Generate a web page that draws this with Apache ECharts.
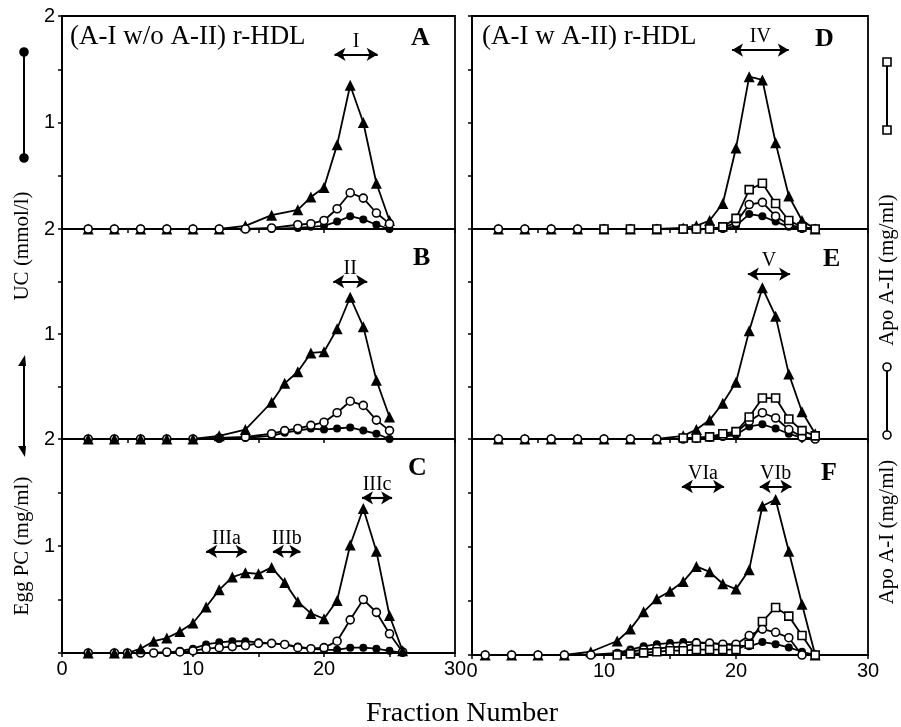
<!DOCTYPE html>
<html><head><meta charset="utf-8">
<script src="https://cdn.jsdelivr.net/npm/echarts@6/dist/echarts.min.js"></script>
<style>html,body{margin:0;padding:0;background:#fff}#c{width:901px;height:727px}</style>
</head><body><div id="c"></div><script>
// ---------- data ----------
const fracA   = [2,4,6,8,10,12,14,16,18,19,20,21,22,23,24,25];
const triA    = [0,0,0,0,0,0,0.03,0.13,0.18,0.30,0.39,0.79,1.35,1.00,0.43,0.08];
const openA   = [0,0,0,0,0,0,0,0.01,0.04,0.05,0.08,0.19,0.34,0.29,0.15,0.05];
const filledA = [0,0,0,0,0,0,0,0,0.01,0.02,0.03,0.07,0.12,0.09,0.04,0];

const fracB   = [2,4,6,8,10,12,14,16,17,18,19,20,21,22,23,24,25];
const triB    = [0,0,0,0,0,0.03,0.09,0.35,0.53,0.64,0.82,0.83,1.05,1.35,1.07,0.56,0.21];
const openB   = [0,0,0,0,0,0.01,0.02,0.05,0.08,0.10,0.13,0.16,0.25,0.36,0.32,0.18,0.08];
const filledB = [0,0,0,0,0,0,0.01,0.03,0.06,0.08,0.10,0.09,0.10,0.11,0.08,0.05,0];

const fracC   = [2,4,5,6,7,8,9,10,11,12,13,14,15,16,17,18,19,20,21,22,23,24,25,26];
const triC    = [0,0,0,0.04,0.11,0.14,0.20,0.28,0.43,0.59,0.71,0.75,0.74,0.80,0.66,0.48,0.37,0.32,0.49,1.01,1.35,0.95,0.35,0.02];
const openC   = [0,0,0,0,0,0.01,0.01,0.02,0.04,0.05,0.06,0.07,0.09,0.09,0.08,0.05,0.04,0.05,0.11,0.31,0.50,0.38,0.18,0.01];
const filledC = [0,0,0,0,0,0,0.02,0.04,0.08,0.10,0.11,0.11,0.10,0.09,0.08,0.06,0.04,0.03,0.03,0.05,0.05,0.04,0.02,0];

const fracD   = [2,4,6,8,10,12,14,16,17,18,19,20,21,22,23,24,25,26];
const triD    = [0,0,0,0,0,0,0,0.01,0.03,0.08,0.24,0.76,1.43,1.40,0.81,0.31,0.08,0];
const openD   = [0,0,0,0,0,0,0,0,0,0,0.01,0.06,0.23,0.25,0.12,0.04,0.01,0];
const filledD = [0,0,0,0,0,0,0,0,0,0,0,0.03,0.14,0.12,0.07,0.02,0,0];
const fracDsq = [10,12,14,16,17,18,19,20,21,22,23,24,25,26];
const sqD     = [0,0,0,0,0,0,0.02,0.10,0.37,0.43,0.24,0.08,0.02,0];

const fracE   = [2,4,6,8,10,12,14,16,17,18,19,20,21,22,23,24,25,26];
const triE    = [0,0,0,0,0,0,0,0.03,0.09,0.18,0.34,0.54,1.03,1.44,1.17,0.62,0.26,0.05];
const openE   = [0,0,0,0,0,0,0,0,0.01,0.02,0.03,0.06,0.17,0.25,0.20,0.09,0.02,0];
const filledE = [0,0,0,0,0,0,0,0,0,0.01,0.02,0.04,0.12,0.14,0.10,0.05,0.01,0];
const fracEsq = [16,17,18,19,20,21,22,23,24,25,26];
const sqE     = [0.01,0.01,0.02,0.05,0.07,0.21,0.39,0.39,0.19,0.08,0.03];

const fracF   = [1,3,5,7,9,11,12,13,14,15,16,17,18,19,20,21,22,23,24,25,26];
const triF    = [0,0,0,0,0.03,0.13,0.24,0.40,0.52,0.59,0.68,0.82,0.77,0.66,0.61,0.79,1.38,1.44,0.96,0.47,0];
const openF   = [0,0,0,0,0,0.01,0.03,0.05,0.06,0.07,0.08,0.11,0.11,0.10,0.10,0.18,0.24,0.21,0.16,0,0];
const filledF = [0,0,0,0,0,0.02,0.05,0.08,0.10,0.11,0.12,0.12,0.11,0.10,0.09,0.08,0.12,0.10,0.07,0.03,0];
const fracFsq = [11,12,13,14,15,16,17,18,19,20,21,22,23,24,25,26];
const sqF     = [0,0.01,0.02,0.03,0.04,0.04,0.05,0.05,0.05,0.05,0.10,0.31,0.44,0.36,0.18,0];

// fraction ranges marked by double arrows: [label, from, to, height]
const arrowsA = [['I', 20.8, 24.1, 1.64]];
const arrowsB = [['II', 20.7, 23.3, 1.50]];
const arrowsC = [['IIIa', 11.0, 14.1, 0.95], ['IIIb', 16.1, 18.2, 0.95], ['IIIc', 22.9, 25.2, 1.45]];
const arrowsD = [['IV', 19.7, 24.0, 1.68]];
const arrowsE = [['V', 20.9, 24.1, 1.57]];
const arrowsF = [['VIa', 15.9, 19.1, 1.56], ['VIb', 21.8, 24.2, 1.56]];

// tick labels
const xLabelValues = [0, 10, 20, 30];
const xLabels      = ['0', '10', '20', '30'];
const yLabelValues = [0, 1, 2];
const yLabelsA = ['2', '1', '2'];
const yLabelsB = ['2', '1', ''];
const yLabelsC = ['', '1', ''];

// ---------- layout ----------
const grids = [
  {left: 62,  top: 16,  width: 393, height: 213},
  {left: 62,  top: 229, width: 393, height: 210},
  {left: 62,  top: 439, width: 393, height: 214},
  {left: 472, top: 16,  width: 396, height: 213},
  {left: 472, top: 229, width: 396, height: 210},
  {left: 472, top: 439, width: 396, height: 216}
];
const SERIF = 'Liberation Serif, Times New Roman, serif';
const SANS = 'Liberation Sans, Arial, sans-serif';

function pts(fr, v) { return fr.map((f, i) => [f, v[i]]); }
const styles = {
  tri:    {symbol: 'triangle', symbolSize: 11, itemStyle: {color: '#000'}},
  open:   {symbol: 'circle', symbolSize: 8, itemStyle: {color: '#fff', borderColor: '#000', borderWidth: 1.6}},
  filled: {symbol: 'circle', symbolSize: 8, itemStyle: {color: '#000'}},
  sq:     {symbol: 'rect', symbolSize: 8, itemStyle: {color: '#fff', borderColor: '#000', borderWidth: 1.6}}
};
function line(kind, fr, v, gi) {
  const s = styles[kind];
  return {
    type: 'line', xAxisIndex: gi, yAxisIndex: gi, data: pts(fr, v),
    symbol: s.symbol, symbolSize: s.symbolSize, itemStyle: s.itemStyle,
    lineStyle: {color: '#000', width: 1.8}, showSymbol: true, silent: true, z: 3
  };
}
function arrowSeries(arr, gi) {
  return {
    type: 'line', xAxisIndex: gi, yAxisIndex: gi, data: [], silent: true,
    markLine: {
      silent: true, animation: false, symbol: ['arrow', 'arrow'], symbolSize: [10, 11],
      lineStyle: {color: '#000', width: 2.2, type: 'solid'},
      label: {show: true, position: 'insideMiddleTop', distance: 3, formatter: p => p.name,
              color: '#000', fontFamily: SERIF, fontSize: 20},
      emphasis: {disabled: true},
      data: arr.map(a => [{name: a[0], coord: [a[1], a[3]]}, {coord: [a[2], a[3]]}])
    }
  };
}

const yLabelSets = [yLabelsA, yLabelsB, yLabelsC, null, null, null];
const xAxes = grids.map((g, i) => ({
  type: 'value', gridIndex: i, min: 0, max: 30, interval: 5,
  axisLine: {show: true, onZero: false, lineStyle: {color: '#000', width: 1.8}},
  axisTick: {show: true, length: 4, lineStyle: {color: '#000', width: 1.5}},
  splitLine: {show: false},
  axisLabel: {
    show: i === 2 || i === 5, margin: 6, color: '#000', fontFamily: SANS, fontSize: 20,
    showMinLabel: true, showMaxLabel: true,
    formatter: v => { const k = xLabelValues.indexOf(v); return k >= 0 ? xLabels[k] : ''; }
  }
}));
const yAxes = grids.map((g, i) => ({
  type: 'value', gridIndex: i, min: 0, max: 2, interval: 0.5,
  axisLine: {show: true, lineStyle: {color: '#000', width: 1.8}},
  axisTick: {show: true, length: 4, lineStyle: {color: '#000', width: 1.5}},
  splitLine: {show: false},
  axisLabel: {
    show: i < 3, margin: 7, color: '#000', fontFamily: SANS, fontSize: 20,
    showMinLabel: true, showMaxLabel: true,
    formatter: v => { const set = yLabelSets[i]; if (!set) return ''; const k = yLabelValues.indexOf(v); return k >= 0 ? set[k] : ''; }
  }
}));

const series = [
  line('tri', fracA, triA, 0), line('filled', fracA, filledA, 0), line('open', fracA, openA, 0),
  line('filled', fracB, filledB, 1), line('open', fracB, openB, 1), line('tri', fracB, triB, 1),
  line('filled', fracC, filledC, 2), line('open', fracC, openC, 2), line('tri', fracC, triC, 2),
  line('tri', fracD, triD, 3), line('filled', fracD, filledD, 3), line('open', fracD, openD, 3), line('sq', fracDsq, sqD, 3),
  line('tri', fracE, triE, 4), line('filled', fracE, filledE, 4), line('open', fracE, openE, 4), line('sq', fracEsq, sqE, 4),
  line('tri', fracF, triF, 5), line('filled', fracF, filledF, 5), line('open', fracF, openF, 5), line('sq', fracFsq, sqF, 5),
  arrowSeries(arrowsA, 0), arrowSeries(arrowsB, 1), arrowSeries(arrowsC, 2),
  arrowSeries(arrowsD, 3), arrowSeries(arrowsE, 4), arrowSeries(arrowsF, 5)
];

const titleStyle = {fontFamily: SERIF, fontSize: 27, fontWeight: 'normal', color: '#000'};
const letterStyle = {fontFamily: SERIF, fontSize: 26, fontWeight: 'bold', color: '#000'};
const titles = [
  {text: '(A-I w/o A-II) r-HDL', left: 70, top: 23, padding: 0, textStyle: titleStyle},
  {text: '(A-I w A-II) r-HDL', left: 482, top: 23, padding: 0, textStyle: titleStyle},
  {text: 'A', left: 411, top: 25, padding: 0, textStyle: letterStyle},
  {text: 'B', left: 413, top: 245, padding: 0, textStyle: letterStyle},
  {text: 'C', left: 408, top: 455, padding: 0, textStyle: letterStyle},
  {text: 'D', left: 815, top: 26, padding: 0, textStyle: letterStyle},
  {text: 'E', left: 823, top: 246, padding: 0, textStyle: letterStyle},
  {text: 'F', left: 821, top: 460, padding: 0, textStyle: letterStyle}
];

function vText(text, x, y, size) {
  return {type: 'text', x: x, y: y, rotation: Math.PI / 2,
    style: {text: text, fill: '#000', font: size + 'px ' + SERIF, textAlign: 'center', textVerticalAlign: 'middle'}};
}
function keyLine(x, y1, y2) {
  return {type: 'line', shape: {x1: x, y1: y1, x2: x, y2: y2}, style: {stroke: '#000', lineWidth: 2}};
}
function keyCircle(x, y, filled) {
  return {type: 'circle', shape: {cx: x, cy: y, r: 4}, style: {fill: filled ? '#000' : '#fff', stroke: '#000', lineWidth: 1.6}, z: 10};
}
function keySquare(x, y) {
  return {type: 'rect', shape: {x: x - 4, y: y - 4, width: 8, height: 8}, style: {fill: '#fff', stroke: '#000', lineWidth: 1.6}, z: 10};
}
function keyTri(x, y, up) {
  const p = up ? [[x + 1, y - 7], [x - 6, y + 4], [x + 2, y + 4]] : [[x + 1, y + 7], [x - 6, y - 4], [x + 2, y - 4]];
  return {type: 'polygon', shape: {points: p}, style: {fill: '#000'}, z: 10};
}

const graphic = [
  keyLine(24, 52, 158), keyCircle(24, 52, true), keyCircle(24, 158, true),
  vText('UC (mmol/l)', 22, 246, 21),
  keyLine(24, 360, 452), keyTri(24, 362, true), keyTri(24, 450, false),
  vText('Egg PC (mg/ml)', 22, 546, 21),
  keyLine(887, 62, 130), keySquare(887, 62), keySquare(887, 130),
  vText('Apo A-II (mg/ml)', 887, 270, 21),
  keyLine(887, 367, 435), keyCircle(887, 367, false), keyCircle(887, 435, false),
  vText('Apo A-I (mg/ml)', 887, 532, 21),
  {type: 'text', x: 462, y: 700, style: {text: 'Fraction Number', fill: '#000', font: '28px ' + SERIF, textAlign: 'center', textVerticalAlign: 'top'}}
];

const chart = echarts.init(document.getElementById('c'), null, {renderer: 'canvas'});
chart.setOption({
  backgroundColor: '#fff',
  animation: false,
  title: titles,
  grid: grids.map(g => Object.assign({show: true, borderColor: '#000', borderWidth: 1.8, backgroundColor: 'transparent', containLabel: false}, g)),
  xAxis: xAxes,
  yAxis: yAxes,
  series: series,
  graphic: graphic
});
</script></body></html>
